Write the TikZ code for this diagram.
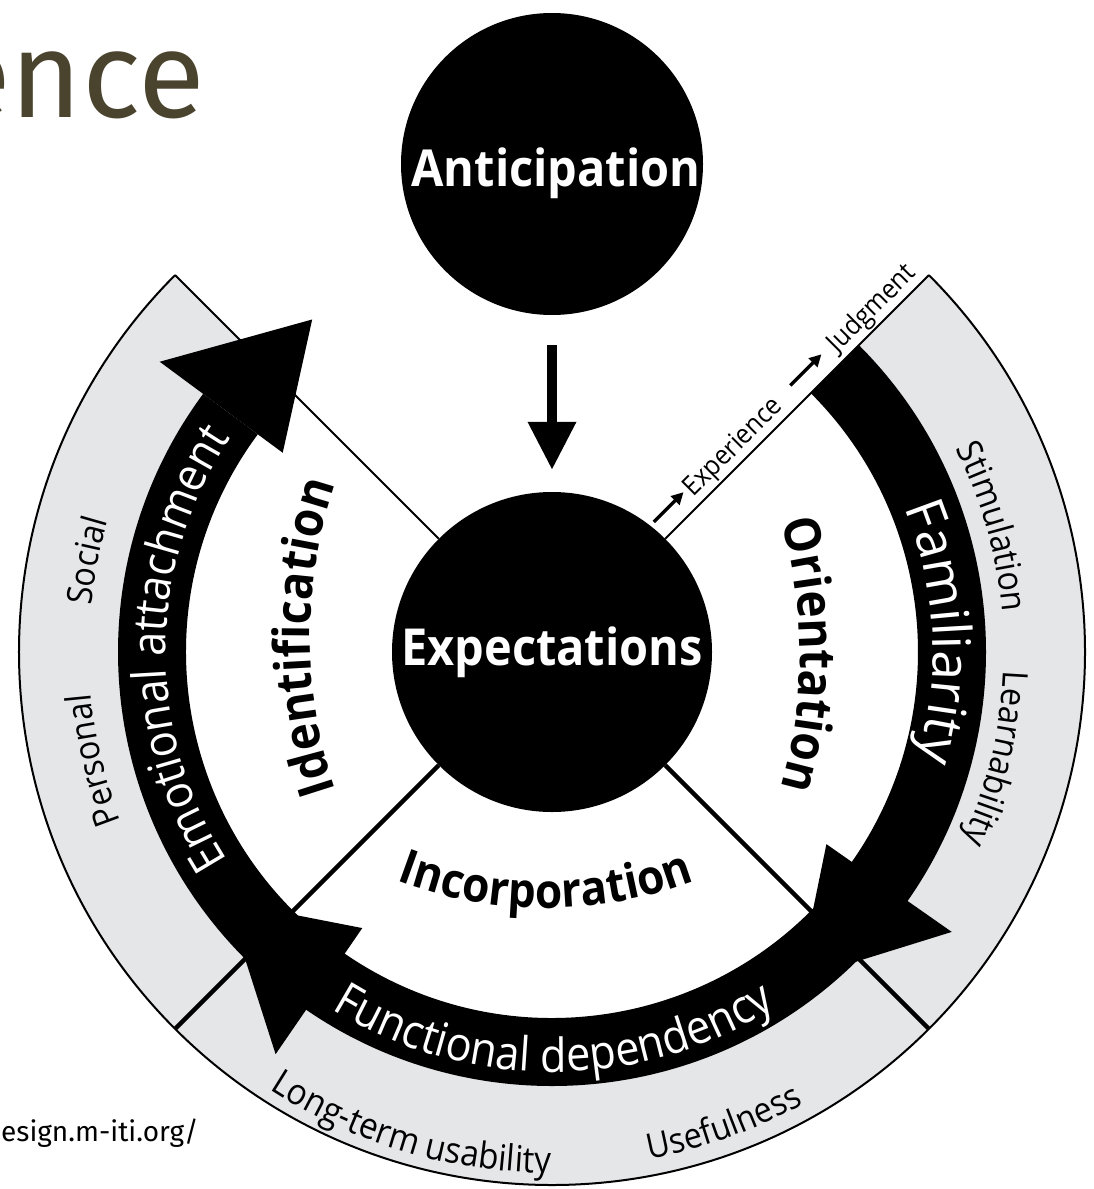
\documentclass[tikz,border=0pt]{standalone}
\usepackage{fontspec}
\setmainfont{Open Sans}
\newfontfamily\osc{Open Sans}[FakeStretch=0.92]
\newfontfamily\firaf{Fira Sans}
\usetikzlibrary{arrows.meta,decorations.text}
\definecolor{greyband}{RGB}{229,230,232}
\definecolor{titlecol}{HTML}{4A432E}
\newcommand\fntBig{\osc\bfseries\fontsize{51}{58}\selectfont}
\newcommand\fntInner{\osc\bfseries\fontsize{50}{56}\selectfont}
\newcommand\fntIncorp{\osc\bfseries\fontsize{48}{54}\selectfont}
\newcommand\fntBand{\osc\fontsize{47}{52}\selectfont}
\newcommand\fntFam{\rmfamily\fontsize{53}{58}\selectfont}
\newcommand\fntGrey{\osc\fontsize{35}{40}\selectfont}
\newcommand\fntGreyL{\osc\fontsize{36}{41}\selectfont}
\newcommand\fntSmall{\osc\fontsize{27}{30}\selectfont}
% font, colour, centre x, centre y, radius, middle angle, half span (negative = clockwise), text
\newcommand\arcTextAt[8]{%
  \pgfmathsetmacro\atS{#6-#7}\pgfmathsetmacro\atE{#6+#7}%
  \begin{scope}[shift={(#3,#4)}]
  \path[decorate,decoration={text along path,text align=center,text color=#2,text={|#1|#8}}]
    (\atS:#5) arc[start angle=\atS,end angle=\atE,radius=#5pt];
  \end{scope}}
\newcommand\arrowHead[2]{\fill[black] (#1:335) -- (#2:410) -- (#1:488) -- cycle;}
\begin{document}
\begin{tikzpicture}[x=1pt,y=1pt,
  thinline/.style={line width=2pt},
  thickline/.style={line width=4.5pt},
  disc/.style={circle,fill=black,inner sep=0pt},
  smallarrow/.style={line width=3.5pt,-{Triangle[length=12pt,width=12pt]}}]
\useasboundingbox (0,0) rectangle (1094,-1189);
\clip (0,0) rectangle (1094,-1189);
\fill[white] (0,0) rectangle (1094,-1189);
% title fragments
\node[anchor=base east,inner sep=0pt,text=titlecol,font=\firaf\fontsize{122}{134}\selectfont] (title) at (205,-117) {ence};
\node[anchor=base west,inner sep=0pt,font=\firaf\fontsize{28}{32}\selectfont] (url) at (1,-1141) {esign.m-iti.org/};
% grey outer ring
\begin{scope}[shift={(552,-652)}]
  \fill[greyband] (135:533) arc[start angle=135,end angle=405,radius=533pt]
     -- (45:425) arc[start angle=45,end angle=-225,radius=425pt] -- cycle;
  \coordinate (o45) at (45:533);
  \coordinate (o135) at (135:533);
  \coordinate (o225) at (225:533);
  \coordinate (o315) at (315:533);
\end{scope}
% circles
\node[disc,minimum size=320pt] (expect) at (552,-652) {};
\node[disc,minimum size=302pt] (antic) at (552,-164) {};
% radial lines
\draw[thinline] (expect.45) -- (o45);
\draw[thinline] (expect.135) -- (o135);
\draw[thickline] (expect.225) -- (o225);
\draw[thickline] (expect.315) -- (o315);
\begin{scope}[shift={(552,-652)}]
  \draw[thinline] (135:533) arc[start angle=135,end angle=405,radius=533pt];
  % black band
  \fill[black] (45:434) arc[start angle=45,end angle=-216.5,radius=434pt]
     -- (-216.5:366) arc[start angle=-216.5,end angle=45,radius=366pt] -- cycle;
  \arrowHead{143.5}{125.8}
  \arrowHead{-35}{-53}
  \arrowHead{235.5}{217.5}
\end{scope}
% band texts
\arcTextAt{\fntBand}{white}{552}{-652}{420}{270.3}{60}{Functional dependency}
\arcTextAt{\fntBand}{white}{552}{-652}{386}{179.5}{-60}{Emotional attachment}
\arcTextAt{\fntFam}{white}{552}{-652}{381}{3}{-45}{Familiarity}
% inner bold texts
\arcTextAt{\fntInner}{black}{320}{-655}{480}{0}{-30}{Orientation}
\arcTextAt{\fntInner}{black}{790}{-637}{480}{180}{-30}{Identification}
\arcTextAt{\fntIncorp}{black}{546}{-488}{420}{270}{30}{Incorporation}
% grey band texts
\arcTextAt{\fntGrey}{black}{552}{-652}{463}{168.9}{-20}{Social}
\arcTextAt{\fntGrey}{black}{552}{-652}{463}{193.3}{-25}{Personal}
\arcTextAt{\fntGrey}{black}{552}{-652}{452}{15.9}{-25}{Stimulation}
\arcTextAt{\fntGrey}{black}{552}{-652}{452}{-13.5}{-25}{Learnability}
\arcTextAt{\fntGreyL}{black}{552}{-652}{521}{253.5}{32}{Long-term usability}
\arcTextAt{\fntGrey}{black}{552}{-652}{517}{290}{20}{Usefulness}
% labels in circles
\node[text=white,font=\fntBig] (expectT) at (expect) {Expectations};
\node[text=white,font=\fntBig] (anticT) at ([xshift=4pt,yshift=-9pt]antic.center) {Anticipation};
% arrow between circles
\draw[line width=10pt,-{Triangle[length=48pt,width=46pt]},shorten <=30pt,shorten >=22pt] (antic) -- (expect);
% experience -> judgment
\begin{scope}[shift={(552,-652)},rotate=45]
  \coordinate (ea1s) at (164,20);
  \coordinate (ea1e) at (206,20);
  \coordinate (ea2s) at (357,20);
  \coordinate (ea2e) at (401,20);
  \draw[smallarrow] (ea1s) -- (ea1e);
  \draw[smallarrow] (ea2s) -- (ea2e);
  \node[rotate=45,anchor=base west,inner sep=0pt,font=\fntSmall] (exper) at (209,9) {Experience};
  \node[rotate=45,anchor=base west,inner sep=0pt,font=\fntSmall] (judg) at (413,9) {Judgment};
\end{scope}
\end{tikzpicture}
\end{document}
